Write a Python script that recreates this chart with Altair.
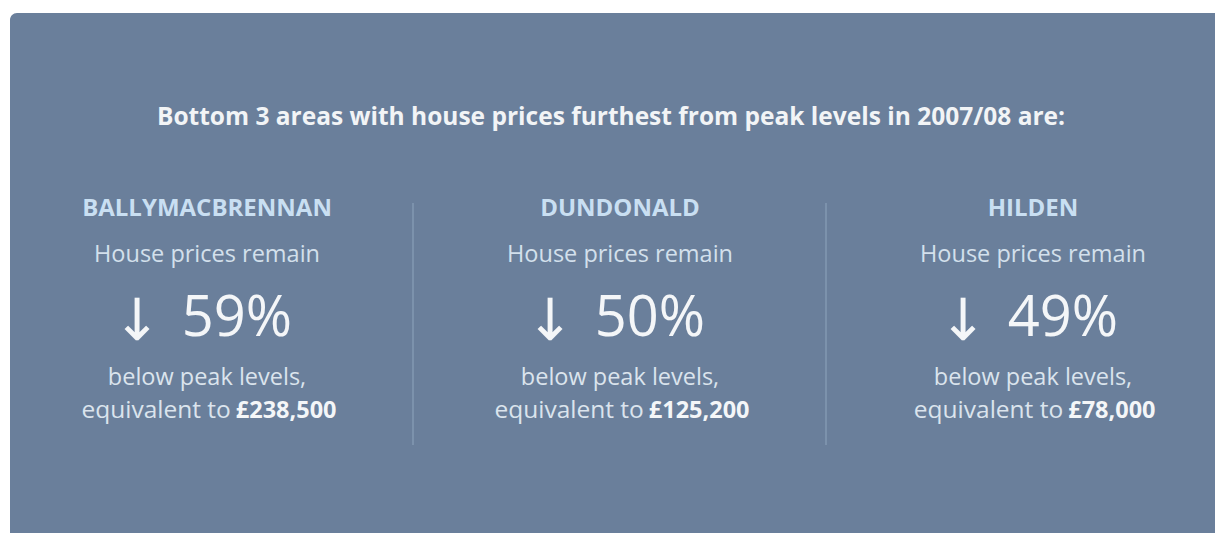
import altair as alt
import pandas as pd

areas = ["BALLYMACBRENNAN", "DUNDONALD", "HILDEN"]
pct_below_peak = [59, 50, 49]
equivalent_gbp = [238500, 125200, 78000]
title_text = "Bottom 3 areas with house prices furthest from peak levels in 2007/08 are:"
subtitle_text = "House prices remain"
below_text = "below peak levels,"
equiv_text = "equivalent to"
arrow_text = "\u2193"

df = pd.DataFrame({
    "area": areas,
    "pct": pct_below_peak,
    "value": equivalent_gbp,
})
df["num"] = [str(p) + "%" for p in df["pct"]]
df["arrow"] = arrow_text
df["value_label"] = ["\u00a3" + f"{v:,}" for v in df["value"]]
df["sub"] = subtitle_text
df["below"] = below_text
df["equiv"] = equiv_text

FONT = "Open Sans"
BG = "#6a7f9b"

xenc = alt.X("area:N", scale=alt.Scale(type="point", domain=areas, range=[199, 1025], padding=0), axis=None)

one = pd.DataFrame({"k": [0]})

panel = alt.Chart(one).mark_rect(color=BG, cornerRadiusTopLeft=7, cornerRadiusBottomLeft=0).encode(
    x=alt.value(2), x2=alt.value(1207), y=alt.value(5), y2=alt.value(540)
)

title = alt.Chart(one).mark_text(
    text=title_text, font=FONT, fontSize=24.5, fontWeight="bold", color="#f2f4f6",
    align="center", baseline="alphabetic"
).encode(x=alt.value(603), y=alt.value(117))

dividers = alt.Chart(pd.DataFrame({"d": [0, 1]})).mark_rule(color="#8398b2", strokeWidth=1.5).encode(
    x=alt.X("d:O", scale=alt.Scale(type="point", range=[405, 818], padding=0), axis=None),
    y=alt.value(195), y2=alt.value(437)
)

base = alt.Chart(df)

names = base.mark_text(font=FONT, fontSize=24, fontWeight="bold", color="#c9dff2",
                       align="center", baseline="alphabetic").encode(
    x=xenc, y=alt.value(208), text="area:N")

sub = base.mark_text(font=FONT, fontSize=23.5, color="#d3e0ec",
                     align="center", baseline="alphabetic").encode(
    x=xenc, y=alt.value(254), text="sub:N")

arrow = base.mark_text(font="DejaVu Sans", fontSize=58, color="#f4f6f8",
                       align="center", baseline="alphabetic", xOffset=-70).encode(
    x=xenc, y=alt.value(332), text="arrow:N")

num = base.mark_text(font=FONT, fontSize=56, color="#f4f6f8",
                     align="center", baseline="alphabetic", xOffset=30).encode(
    x=xenc, y=alt.value(328), text="num:N")

below = base.mark_text(font=FONT, fontSize=23.5, color="#dbe4ed",
                       align="center", baseline="alphabetic").encode(
    x=xenc, y=alt.value(377), text="below:N")

equiv = base.transform_calculate(
    off="(150 - 12.8*length(datum.value_label))/2"
).mark_text(font=FONT, fontSize=24.5, color="#dbe4ed",
            align="right", baseline="alphabetic").encode(
    x=xenc, xOffset=alt.XOffset("off:Q", scale=None), y=alt.value(410), text="equiv:N")

val = base.transform_calculate(
    off="(150 - 12.8*length(datum.value_label))/2 + 5"
).mark_text(font=FONT, fontSize=23.5, fontWeight="bold", color="#f4f6f8",
            align="left", baseline="alphabetic").encode(
    x=xenc, xOffset=alt.XOffset("off:Q", scale=None), y=alt.value(410), text="value_label:N")

chart = alt.layer(panel, title, dividers, names, sub, arrow, num, below, equiv, val).properties(
    width=1207, height=525, padding=0, background="white",
    autosize=alt.AutoSizeParams(type="none")
).configure_view(stroke=None).resolve_scale(x="independent")

chart.save("out.html", embed_options={"renderer": "svg", "actions": False})
